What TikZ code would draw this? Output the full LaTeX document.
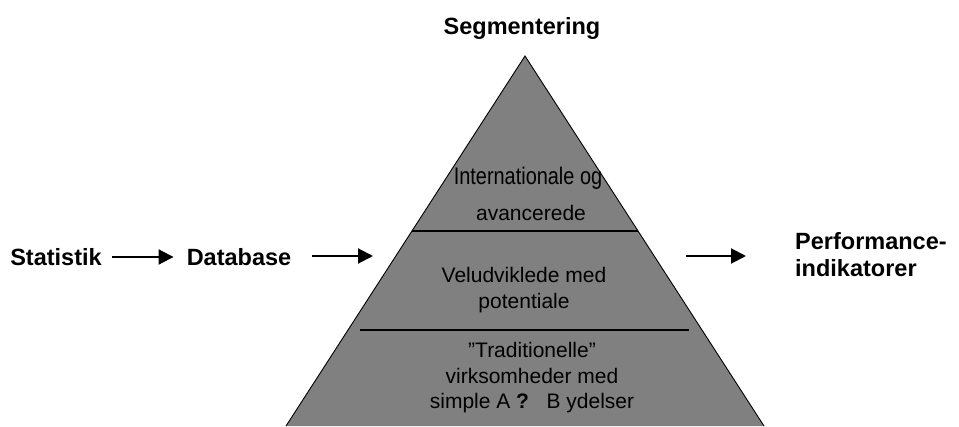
\documentclass[tikz,border=0pt]{standalone}
\usepackage{fontspec}
\setmainfont{Liberation Sans}
\newfontfamily\narrowfont[FakeStretch=0.83]{Liberation Sans}
\usetikzlibrary{arrows.meta, positioning, calc}
\definecolor{pyrGray}{RGB}{128, 128, 128}

\begin{document}
\begin{tikzpicture}[
    x=1pt, y=1pt,
    font=\fontsize{23}{27}\selectfont,
    % Estilo para etiquetas en negrita
    label_node/.style={
        font=\fontsize{23.5}{27}\selectfont\bfseries,
        inner sep=0pt
    },
    % Estilo para textos dentro de la pirámide
    level_node/.style={
        align=center,
        font=\fontsize{21}{26}\selectfont,
        inner sep=0pt
    },
    % Estilo para flechas
    arrow/.style={
        -{Triangle[length=15pt, width=15pt]},
        line width=2pt,
        black
    }
]
    \useasboundingbox (0,0) rectangle (959,426);

    % --- 1. Pirámide ---
    \coordinate (apex) at (525,370);
    \coordinate (base_left) at (286,0);
    \coordinate (base_right) at (764,0);

    \fill[pyrGray] (base_left) -- (apex) -- (base_right) -- cycle;
    \draw[line width=0.9pt] (base_left) -- (apex) -- (base_right);

    % Líneas de separación entre niveles
    \draw[line width=1.2pt] ($(apex)!0.473!(base_left)$) -- ($(apex)!0.473!(base_right)$);
    \draw[line width=1.2pt] (360,96) -- (689,96);

    % --- 2. Niveles ---
    \node[level_node, font=\fontsize{24}{29}\selectfont\narrowfont] (lvl_top) at (528,248) {Internationale og};
    \node[level_node] (lvl_top2) at (531,213) {avancerede};
    \node[level_node] (lvl_mid) at (524,136) {Veludviklede med\\ potentiale};
    \node[level_node, font=\fontsize{21}{25.5}\selectfont] (lvl_low) at (532,48) {%
        ”Traditionelle”\\
        virksomheder med\\
        simple A \textbf{?}\ \ \ B ydelser};

    % --- 3. Etiquetas ---
    \node[label_node] (segm) at (522,398) {Segmentering};
    \node[label_node] (stat) at (56,169) {Statistik};
    \node[label_node] (db) at (239,169) {Database};
    \node[label_node, align=left, anchor=west] (perf) at (795,171) {Performance-\\ indikatorer};

    % --- 4. Flechas ---
    \coordinate (db_in) at (312,170);
    \coordinate (pyr_in) at (373,170);
    \coordinate (pyr_out) at (686,170);
    \coordinate (perf_in) at (746,170);

    \draw[arrow] (stat.east) ++(10,0) -- ($(db.west) + (-13,0)$);
    \draw[arrow] (db_in) -- (pyr_in);
    \draw[arrow] (pyr_out) -- (perf_in);

\end{tikzpicture}
\end{document}
